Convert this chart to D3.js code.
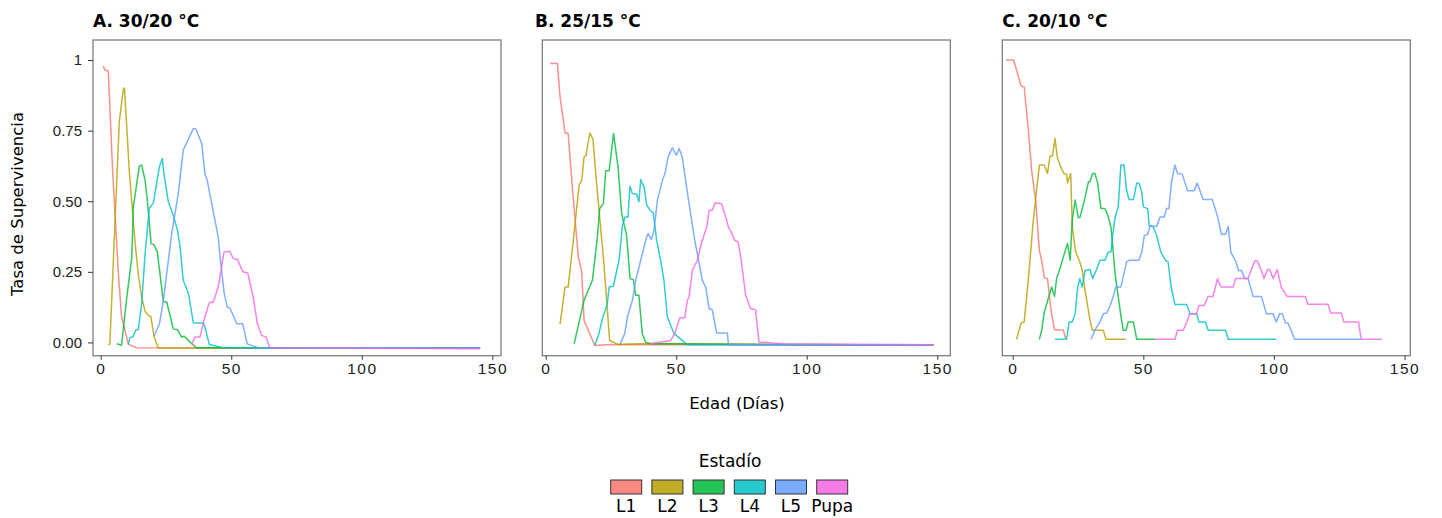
<!DOCTYPE html>
<html>
<head>
<meta charset="utf-8">
<script src="https://cdn.jsdelivr.net/npm/d3@7"></script>
<style>
  body { margin: 0; background: #fff; }
  svg { display: block; font-family: "DejaVu Sans", sans-serif; }
</style>
</head>
<body>
<svg id="chart" width="1442" height="518"></svg>
<script>
// stages + colours (ggplot hue palette)
const stages = ["L1", "L2", "L3", "L4", "L5", "Pupa"];
const colors = ["#F8766D", "#B79F00", "#00BA38", "#00BFC4", "#619CFF", "#F564E3"];
const titles = ["A. 30/20 °C", "B. 25/15 °C", "C. 20/10 °C"];
const xTicks = [0, 50, 100, 150];
const yTicks = [0, 0.25, 0.5, 0.75, 1];
const yTickLabels = ["0.00", "0.25", "0.50", "0.75", "1"];

// A. 30/20 °C  -- [day, survival]
const a_L1 = [[1,0.979],[1.6,0.965],[2.9,0.961],[4.6,0.6],[6.8,0.24],[8,0.09],[10.6,-0.007],[13.8,-0.019],[145.3,-0.02]];
const a_L2 = [[2.9,-0.007],[3.5,-0.007],[7.1,0.78],[8.7,0.90],[9.1,0.90],[11,0.60],[13.1,0.36],[14.4,0.24],[15.7,0.16],[17,0.11],[18.2,0.096],[19.2,0.092],[20.4,0.022],[22,-0.02],[145.3,-0.02]];
const a_L3 = [[6.1,-0.005],[8,-0.01],[10,0.16],[11.9,0.30],[12.5,0.48],[14.8,0.625],[15.7,0.628],[17,0.575],[17.9,0.50],[19.3,0.35],[20.4,0.346],[21.7,0.32],[23,0.22],[24,0.145],[25.3,0.143],[27.8,0.048],[29.4,0.045],[31,0.019],[32,0.022],[34.2,0.001],[36.8,-0.019],[145.3,-0.02]];
const a_L4 = [[10.6,-0.007],[11.2,0.017],[12.3,0.019],[13.5,0.045],[14.4,0.045],[15.7,0.137],[17,0.314],[18.6,0.474],[20.2,0.495],[22.5,0.624],[23.6,0.651],[24.2,0.598],[25.9,0.498],[27.6,0.456],[29.4,0.397],[30.4,0.338],[31.6,0.22],[33.6,0.173],[35.5,0.069],[39.3,0.069],[39.9,0.054],[41.6,-0.007],[47,-0.019],[145.3,-0.02]];
const a_L5 = [[20.4,0.022],[22.5,0.066],[24,0.149],[27.2,0.385],[29.7,0.527],[31.6,0.681],[35.5,0.758],[36.5,0.755],[38.7,0.704],[39.9,0.598],[40.8,0.574],[45,0.373],[45.7,0.303],[47.3,0.173],[48.5,0.125],[49.5,0.122],[52.1,0.066],[54.4,0.066],[56.1,-0.005],[60.4,-0.019],[145.3,-0.02]];
const a_Pupa = [[34.8,-0.007],[36.1,0.019],[38,0.019],[39.9,0.09],[41.6,0.141],[43.1,0.143],[45,0.196],[46.3,0.267],[47.2,0.32],[49.3,0.323],[50.8,0.297],[52.4,0.294],[54.4,0.25],[56.3,0.246],[58.4,0.161],[60,0.066],[61.6,0.025],[63.3,0.019],[64.8,-0.019],[145.3,-0.022]];

// B. 25/15 °C
const b_L1 = [[1.7,0.988],[4.5,0.988],[5.5,0.87],[7.4,0.742],[8.6,0.74],[10.2,0.551],[12.5,0.303],[13.8,0.249],[14.7,0.078],[18.8,-0.011],[24.9,-0.007],[148.7,-0.01]];
const b_L2 = [[5.5,0.064],[7.4,0.196],[8.6,0.196],[10.6,0.362],[12.8,0.557],[13.8,0.574],[14.7,0.657],[15.4,0.661],[16.9,0.742],[18.1,0.719],[19.4,0.574],[22.3,0.279],[24.5,0.007],[27.7,-0.007],[39.6,-0.004],[148.7,-0.01]];
const b_L3 = [[10.9,-0.005],[14.7,0.149],[17.9,0.22],[19.8,0.374],[20.7,0.474],[22.1,0.492],[23,0.608],[24.3,0.608],[26,0.74],[27.7,0.622],[29.1,0.456],[31,0.379],[32.3,0.226],[33.6,0.222],[34.5,0.167],[35.7,0.167],[37,0.031],[38.3,0.001],[40,-0.005],[148.7,-0.01]];
const b_L4 = [[18.8,-0.011],[20.4,0.031],[21.7,0.084],[23.6,0.137],[24.3,0.196],[25.9,0.199],[28.1,0.291],[29.4,0.415],[30.4,0.444],[31.5,0.444],[32.3,0.553],[33.2,0.527],[34.9,0.525],[35.7,0.498],[36.4,0.577],[37.7,0.551],[38.7,0.486],[40,0.468],[41.2,0.459],[42.5,0.362],[44,0.291],[45.3,0.22],[46.6,0.09],[49.2,0.031],[54.3,-0.008],[148.7,-0.01]];
const b_L5 = [[28.5,-0.007],[30.3,0.031],[31.3,0.09],[33.2,0.149],[34.5,0.22],[36.4,0.291],[38.3,0.362],[39.2,0.385],[40.5,0.364],[41.5,0.397],[42.8,0.504],[44.7,0.574],[45.7,0.598],[46.9,0.657],[48.5,0.689],[50.1,0.663],[51.1,0.687],[52.3,0.657],[54.9,0.492],[57.1,0.362],[60,0.22],[61.3,0.196],[62.6,0.119],[63.8,0.116],[65.5,0.033],[69.6,0.033],[70,-0.008],[148.7,-0.01]];
const b_Pupa = [[40,-0.005],[47.9,0.007],[49.4,0.031],[51.4,0.087],[53.2,0.087],[54.3,0.149],[54.9,0.161],[56.2,0.255],[58.1,0.291],[59.6,0.35],[61.7,0.409],[62.6,0.468],[63.8,0.468],[64.9,0.494],[67.3,0.492],[68.6,0.456],[70,0.409],[71.2,0.388],[72.4,0.362],[73.7,0.356],[74.9,0.291],[76.6,0.167],[78.5,0.119],[80.4,0.116],[81.7,0.001],[91.3,-0.005],[148.7,-0.008]];

// C. 20/10 °C
const c_L1 = [[-2.6,1.0],[0.3,1.0],[1.5,0.965],[3.2,0.908],[4.4,0.905],[6,0.752],[7.3,0.604],[8.8,0.504],[10.2,0.326],[11.1,0.291],[12.1,0.229],[13.3,0.226],[14.7,0.113],[16,0.045],[17.5,0.045],[19.4,0.043],[20.3,0.013]];
const c_L2 = [[1.5,0.011],[3.2,0.069],[4.4,0.072],[6,0.226],[7.9,0.433],[10.2,0.628],[12.1,0.628],[13.3,0.598],[14.3,0.66],[15.2,0.66],[16.2,0.722],[17.1,0.655],[18.5,0.619],[19.6,0.598],[20.6,0.596],[21,0.565],[22.2,0.598],[22.8,0.409],[24.1,0.32],[25.7,0.285],[26.6,0.255],[27.7,0.184],[29.6,0.078],[30.5,0.043],[34.7,0.043],[35.7,0.011],[43.3,0.011]];
const c_L3 = [[10.2,0.011],[11.1,0.043],[12.1,0.108],[13.6,0.155],[14.9,0.196],[16,0.163],[16.8,0.226],[18.1,0.261],[19.4,0.303],[21,0.35],[22,0.291],[22.8,0.433],[23.9,0.504],[25.1,0.442],[25.7,0.442],[27.4,0.501],[29,0.569],[29.6,0.569],[30.6,0.598],[31.5,0.598],[32.5,0.565],[33.8,0.474],[35.3,0.474],[36.4,0.45],[37.6,0.409],[38.2,0.35],[39.2,0.243],[40.4,0.161],[41.4,0.096],[42.3,0.043],[43.4,0.043],[44.2,0.072],[46.2,0.072],[47.5,0.011],[54.5,0.011]];
const c_L4 = [[16.2,0.011],[20.6,0.011],[21.6,0.072],[22.8,0.072],[23.9,0.102],[24.9,0.196],[25.7,0.226],[26.6,0.196],[27.7,0.255],[29.6,0.258],[30.6,0.226],[32.1,0.258],[33.4,0.291],[35.3,0.291],[36.6,0.32],[37.6,0.32],[38.2,0.374],[39.2,0.444],[40.4,0.48],[41.4,0.628],[42.6,0.628],[43.6,0.539],[44.5,0.506],[46.2,0.506],[47.5,0.565],[48.3,0.565],[49.4,0.533],[50,0.48],[51.7,0.474],[52.2,0.415],[53.8,0.409],[55.1,0.379],[56.7,0.32],[58.5,0.291],[59.5,0.285],[60.6,0.199],[62.1,0.134],[66.6,0.134],[67.8,0.102],[70.4,0.102],[71.3,0.072],[73.8,0.072],[74.8,0.043],[81.5,0.043],[82.5,0.011],[100.9,0.011]];
const c_L5 = [[30,0.011],[31.5,0.045],[33.4,0.072],[34.7,0.102],[36,0.104],[37.3,0.131],[38.5,0.163],[39.4,0.196],[41.4,0.196],[42.3,0.232],[43.6,0.285],[44.6,0.291],[48.3,0.291],[49.4,0.32],[50.4,0.379],[51.7,0.383],[52.5,0.411],[55.1,0.411],[56.4,0.444],[58,0.444],[58.9,0.474],[59.8,0.474],[60.8,0.569],[62.1,0.628],[63.1,0.598],[64.9,0.596],[66.9,0.537],[69.5,0.537],[70.6,0.565],[72.9,0.506],[76.4,0.506],[78.4,0.447],[79.9,0.383],[81.5,0.383],[82.5,0.411],[83.5,0.32],[85.3,0.288],[86.5,0.255],[87.6,0.255],[88.8,0.226],[90.1,0.226],[92,0.163],[95.2,0.163],[97.1,0.102],[99.7,0.102],[100.9,0.072],[102.2,0.102],[103.2,0.102],[104.4,0.069],[105.4,0.069],[107.9,0.011],[133.4,0.011]];
const c_Pupa = [[54.5,0.011],[62.1,0.011],[63.1,0.043],[65.3,0.043],[66.6,0.072],[67.8,0.102],[70.4,0.102],[71.3,0.131],[73.3,0.131],[74.8,0.163],[76.7,0.163],[78.4,0.226],[79.7,0.196],[84.4,0.196],[85.3,0.226],[90.1,0.226],[91.4,0.258],[92.6,0.288],[93.7,0.288],[95.2,0.255],[96.2,0.226],[97.5,0.258],[98.4,0.258],[99.7,0.226],[101.3,0.258],[102.8,0.196],[105.1,0.163],[112,0.163],[113,0.135],[120.7,0.135],[121.7,0.104],[125.8,0.104],[126.8,0.072],[132.4,0.072],[133.4,0.011],[141.3,0.011]];

const seriesByPanel = [
    [a_L1, a_L2, a_L3, a_L4, a_L5, a_Pupa],
    [b_L1, b_L2, b_L3, b_L4, b_L5, b_Pupa],
    [c_L1, c_L2, c_L3, c_L4, c_L5, c_Pupa]
];

const svg = d3.select("#chart");

const panelLeft = [93, 542.3, 1002.3];
const panelWidth = 408;
const panelTop = 40, panelBottom = 355.7;
const xDomains = [[-2.95, 153.3], [-1.3, 155], [-3.98, 152.2]];

let y = d3.scaleLinear().domain([-0.047, 1.071]).range([panelBottom, panelTop]);

seriesByPanel.forEach(function (series, p) {
    let x = d3.scaleLinear().domain(xDomains[p])
        .range([panelLeft[p], panelLeft[p] + panelWidth]);

    let g = svg.append("g").attr("class", "panel");

    // border
    g.append("rect")
        .attr("x", panelLeft[p]).attr("y", panelTop)
        .attr("width", panelWidth).attr("height", panelBottom - panelTop)
        .attr("fill", "white")
        .style("stroke", "#7f7f7f")
        .style("stroke-width", 1.3);

    // lines
    let line = d3.line().x(d => x(d[0])).y(d => y(d[1]));
    g.append("g")
        .selectAll("path")
        .data(series)
        .enter()
        .append("path")
        .attr("d", line)
        .attr("fill", "none")
        .attr("stroke", (d, i) => colors[i])
        .attr("stroke-opacity", 0.8)
        .attr("stroke-width", 1.5)
        .attr("stroke-linejoin", "round");

    // x axis
    let xAxis = g.append("g")
        .attr("transform", "translate(0," + panelBottom + ")")
        .call(d3.axisBottom(x).tickValues(xTicks).tickSize(4).tickPadding(3).tickFormat(d3.format("d")));
    xAxis.select(".domain").remove();
    xAxis.selectAll("line").attr("stroke", "#333");
    xAxis.selectAll("text")
        .attr("fill", "#222")
        .style("font-size", "15.5px")
        .style("letter-spacing", "1.5px");

    // title
    svg.append("text")
        .attr("x", p == 1 ? 535 : panelLeft[p])
        .attr("y", 26.5)
        .style("font-size", "17px")
        .style("font-weight", "bold")
        .text(titles[p]);

    // y axis only on the first panel
    if (p == 0) {
        let yAxis = g.append("g")
            .attr("transform", "translate(" + panelLeft[p] + ",0)")
            .call(d3.axisLeft(y).tickValues(yTicks).tickSize(5).tickPadding(6)
                .tickFormat((d, i) => yTickLabels[i]));
        yAxis.select(".domain").remove();
        yAxis.selectAll("line").attr("stroke", "#333");
        yAxis.selectAll("text")
            .attr("fill", "#222")
            .style("font-size", "15px");
    }
});

// axis titles
svg.append("text")
    .attr("transform", "translate(23,204) rotate(-90)")
    .attr("text-anchor", "middle")
    .style("font-size", "16.5px")
    .text("Tasa de Supervivencia");

svg.append("text")
    .attr("x", 737).attr("y", 409)
    .attr("text-anchor", "middle")
    .style("font-size", "16.5px")
    .text("Edad (Días)");

// legend
svg.append("text")
    .attr("x", 730).attr("y", 466.5)
    .attr("text-anchor", "middle")
    .style("font-size", "17px")
    .text("Estadío");

let legendX = d3.scalePoint().domain(stages).range([626.2, 832.2]);

let keys = svg.append("g")
    .selectAll("g")
    .data(stages)
    .enter()
    .append("g")
    .attr("transform", d => "translate(" + legendX(d) + ",0)");

keys.append("rect")
    .attr("x", -15.5).attr("y", 480)
    .attr("width", 31).attr("height", 14)
    .attr("fill", (d, i) => colors[i])
    .attr("fill-opacity", 0.85)
    .style("stroke", "#333")
    .style("stroke-width", 1);

keys.append("text")
    .attr("y", 512)
    .attr("text-anchor", "middle")
    .style("font-size", "17px")
    .text(d => d);
</script>
</body>
</html>
